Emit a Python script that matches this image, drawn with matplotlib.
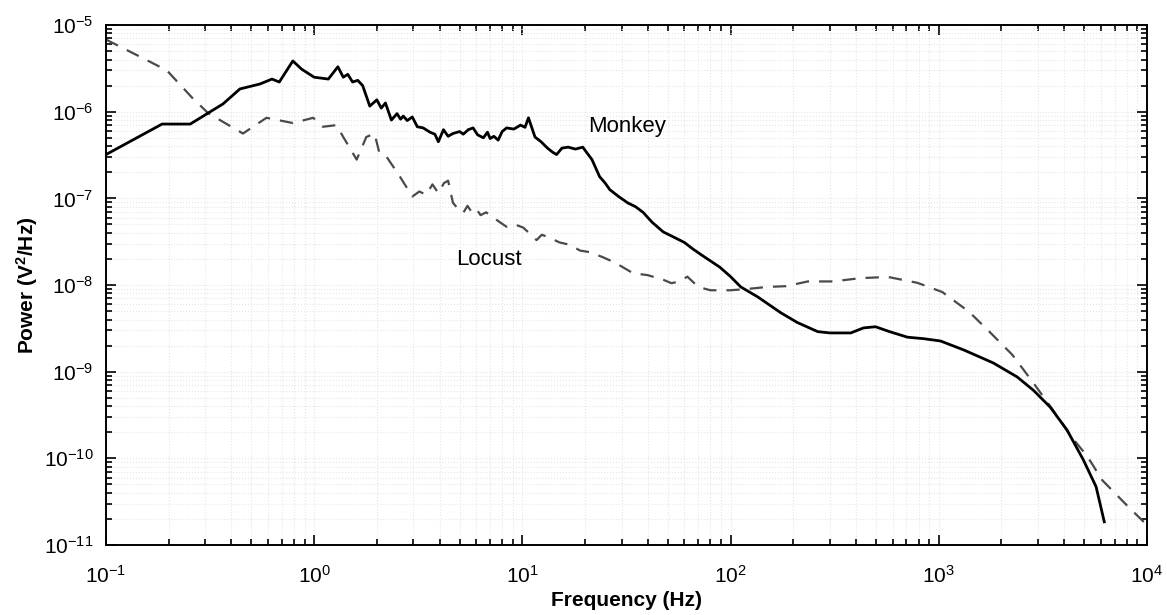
import matplotlib
matplotlib.use("Agg")
from matplotlib import pyplot
from matplotlib.ticker import LogLocator, NullFormatter

# monkey power spectrum (solid)
monkey_f = [0.1, 0.186, 0.254, 0.365, 0.44, 0.55, 0.627, 0.68, 0.79, 0.87, 1.0,
            1.17, 1.30, 1.38, 1.45, 1.53, 1.62, 1.71, 1.85, 2.0, 2.1, 2.2, 2.35,
            2.5, 2.6, 2.68, 2.8, 2.96, 3.13, 3.34, 3.6, 3.8, 3.95, 4.18, 4.4,
            4.64, 5.0, 5.2, 5.5, 5.8, 6.1, 6.5, 6.8, 7.0, 7.3, 7.65, 8.0, 8.4,
            9.1, 9.8, 10.3, 10.7, 11.5, 12.3, 13.2, 14.0, 14.6, 15.5, 16.6, 18.0,
            19.5, 21.6, 23.5, 25.0, 26.3, 29.0, 32.0, 35.0, 38.0, 42.0, 47.5,
            53.0, 60.0, 66.0, 73.0, 80.0, 89.0, 100.0, 112.0, 135.0, 174.0,
            209.0, 262.0, 300.0, 378.0, 435.0, 497.0, 580.0, 708.0, 850.0,
            1020.0, 1320.0, 1830.0, 2380.0, 2850.0, 3430.0, 4130.0, 4950.0,
            5700.0, 6240.0]
monkey_p = [3.2e-7, 7.2e-7, 7.2e-7, 1.23e-6, 1.83e-6, 2.09e-6, 2.38e-6, 2.2e-6,
            3.85e-6, 3.1e-6, 2.5e-6, 2.38e-6, 3.3e-6, 2.5e-6, 2.7e-6, 2.2e-6,
            2.3e-6, 2.0e-6, 1.16e-6, 1.37e-6, 1.1e-6, 1.26e-6, 8.0e-7, 9.5e-7,
            8.2e-7, 8.9e-7, 7.9e-7, 8.7e-7, 6.7e-7, 6.5e-7, 5.8e-7, 5.5e-7,
            4.5e-7, 6.2e-7, 5.2e-7, 5.6e-7, 5.9e-7, 5.5e-7, 6.2e-7, 6.5e-7,
            5.4e-7, 5.0e-7, 5.8e-7, 4.9e-7, 5.2e-7, 4.7e-7, 5.9e-7, 6.5e-7,
            6.3e-7, 7.0e-7, 6.6e-7, 8.5e-7, 5.1e-7, 4.5e-7, 3.8e-7, 3.4e-7,
            3.2e-7, 3.8e-7, 3.9e-7, 3.7e-7, 3.9e-7, 2.8e-7, 1.78e-7, 1.5e-7,
            1.26e-7, 1.05e-7, 8.9e-8, 8.0e-8, 6.9e-8, 5.3e-8, 4.1e-8, 3.6e-8,
            3.1e-8, 2.6e-8, 2.2e-8, 1.9e-8, 1.6e-8, 1.25e-8, 9.5e-9, 7.3e-9,
            4.8e-9, 3.7e-9, 2.9e-9, 2.8e-9, 2.8e-9, 3.2e-9, 3.3e-9, 2.9e-9,
            2.5e-9, 2.4e-9, 2.26e-9, 1.78e-9, 1.26e-9, 8.7e-10, 6.1e-10,
            3.9e-10, 2.13e-10, 9.6e-11, 4.7e-11, 1.85e-11]

# locust power spectrum (dashed)
locust_f = [0.1, 0.146, 0.196, 0.26, 0.31, 0.455, 0.59, 0.79, 0.99, 1.1, 1.28,
            1.38, 1.6, 1.78, 1.95, 2.06, 2.23, 2.55, 2.96, 3.2, 3.45, 3.7, 3.95,
            4.2, 4.4, 4.64, 4.9, 5.2, 5.45, 5.7, 6.0, 6.3, 6.7, 7.2, 7.8, 8.4,
            9.2, 10.1, 11.0, 11.7, 12.4, 13.2, 15.1, 17.0, 18.9, 21.0, 24.3,
            28.0, 34.0, 40.0, 47.5, 52.0, 57.0, 62.0, 70.0, 80.0, 100.0, 120.0,
            150.0, 185.0, 235.0, 310.0, 420.0, 570.0, 790.0, 1040.0, 1400.0,
            1750.0, 2260.0, 2850.0, 3540.0, 4270.0, 5180.0, 6100.0, 8090.0,
            10000.0]
locust_p = [6.8e-6, 4.3e-6, 3.0e-6, 1.44e-6, 9.6e-7, 5.6e-7, 8.5e-7, 7.4e-7,
            8.5e-7, 6.7e-7, 7.0e-7, 5.1e-7, 2.8e-7, 5.1e-7, 5.6e-7, 3.3e-7,
            3.0e-7, 1.87e-7, 1.05e-7, 1.2e-7, 1.1e-7, 1.45e-7, 1.15e-7, 1.5e-7,
            1.6e-7, 8.9e-8, 7.6e-8, 6.8e-8, 8.2e-8, 7.0e-8, 7.6e-8, 6.4e-8,
            6.9e-8, 6.1e-8, 5.3e-8, 4.7e-8, 5.0e-8, 4.6e-8, 3.8e-8, 3.3e-8,
            3.8e-8, 3.6e-8, 3.1e-8, 2.9e-8, 2.5e-8, 2.4e-8, 2.1e-8, 1.8e-8,
            1.37e-8, 1.3e-8, 1.15e-8, 1.05e-8, 1.1e-8, 1.25e-8, 9.5e-9, 8.7e-9,
            8.7e-9, 9.0e-9, 9.5e-9, 9.7e-9, 1.1e-8, 1.1e-8, 1.2e-8, 1.24e-8,
            1.06e-8, 8.3e-9, 4.9e-9, 2.9e-9, 1.56e-9, 7.4e-10, 3.6e-10,
            1.86e-10, 1.05e-10, 5.6e-11, 2.8e-11, 1.7e-11]

pyplot.rcParams["font.family"] = ["Liberation Sans", "DejaVu Sans"]
pyplot.rcParams["mathtext.fontset"] = "custom"
pyplot.rcParams["mathtext.rm"] = "Liberation Sans"
pyplot.rcParams["mathtext.it"] = "Liberation Sans:italic"
pyplot.rcParams["mathtext.bf"] = "Liberation Sans:bold"

fig = pyplot.figure(figsize=(11.67, 6.15), dpi=100)
ax = fig.add_axes([0.0908, 0.1138, 0.892, 0.8455])

ax.loglog(monkey_f, monkey_p, color="black", lw=2.0, zorder=3)
ax.loglog(locust_f, locust_p, color="#4a4a4a", lw=1.6, dashes=(6, 4.5), zorder=2)

ax.set_xlim(0.1, 1e4)
ax.set_ylim(1e-11, 1e-5)

ax.xaxis.set_major_locator(LogLocator(base=10, numticks=10))
ax.xaxis.set_minor_locator(LogLocator(base=10, subs=range(2, 10), numticks=10))
ax.yaxis.set_major_locator(LogLocator(base=10, numticks=10))
ax.yaxis.set_minor_locator(LogLocator(base=10, subs=range(2, 10), numticks=10))
ax.xaxis.set_minor_formatter(NullFormatter())
ax.yaxis.set_minor_formatter(NullFormatter())

ax.tick_params(which="both", direction="in", top=True, right=True,
               labelsize=15, width=1.2)
ax.tick_params(which="major", length=7)
ax.tick_params(axis="y", which="major", pad=9)
ax.tick_params(axis="x", which="major", pad=14)
ax.tick_params(which="minor", length=4)
for s in ax.spines.values():
    s.set_linewidth(1.4)

ax.grid(True, which="both", color="#e6e6e6", linestyle=":", linewidth=0.8)

ax.text(32, 6.7e-7, "Monkey", fontsize=16, ha="center", va="center")
ax.text(6.9, 1.95e-8, "Locust", fontsize=16, ha="center", va="center")

ax.set_xlabel("Frequency (Hz)", fontsize=15, fontweight="bold", labelpad=3)
ax.set_ylabel("Power (V$^\\mathbf{2}$/Hz)", fontsize=15, fontweight="bold", labelpad=3)

pyplot.savefig("out.png")
pyplot.close()
